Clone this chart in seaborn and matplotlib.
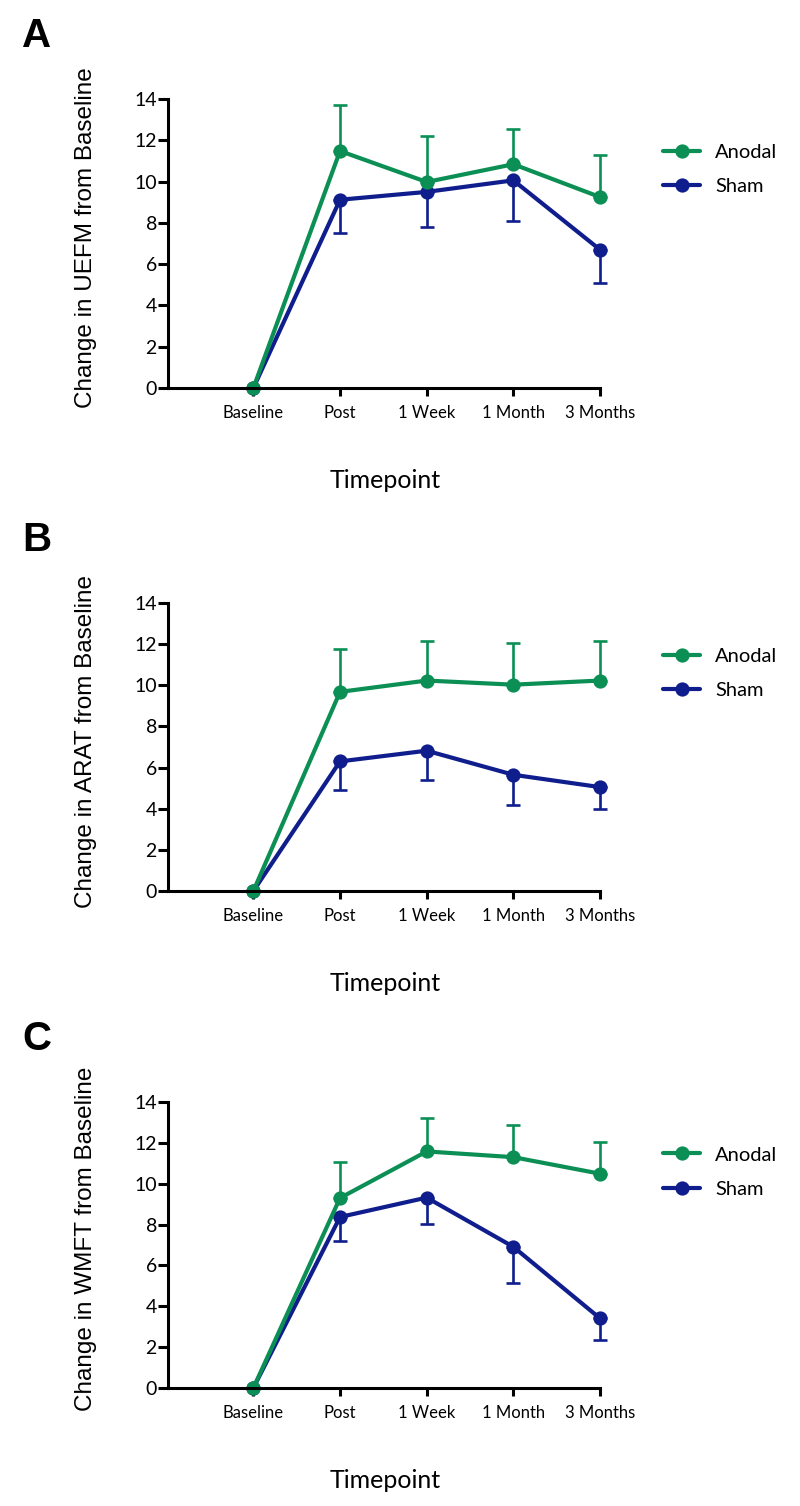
import matplotlib
matplotlib.use("Agg")
import matplotlib.pyplot as plt
import numpy as np
import pandas as pd
import seaborn as sns

sns.set_theme(style="ticks")
plt.rcParams['font.family'] = ['Lato', 'DejaVu Sans']
plt.rcParams['text.color'] = 'black'
plt.rcParams['xtick.color'] = 'black'
plt.rcParams['ytick.color'] = 'black'
plt.rcParams['axes.labelcolor'] = 'black'

timepoints = ['Baseline', 'Post', '1 Week', '1 Month', '3 Months']
groups = ['Anodal', 'Sham']
colors = {'Anodal': '#0b8f55', 'Sham': '#0f1e8c'}

# mean change from baseline, one list per panel and group
uefm_anodal = [0, 11.48, 9.98, 10.84, 9.25]
uefm_sham = [0, 9.12, 9.50, 10.06, 6.70]
arat_anodal = [0, 9.68, 10.23, 10.03, 10.23]
arat_sham = [0, 6.30, 6.82, 5.65, 5.05]
wmft_anodal = [0, 9.30, 11.58, 11.30, 10.49]
wmft_sham = [0, 8.37, 9.32, 6.91, 3.41]

# error bar lengths (anodal drawn up, sham drawn down)
uefm_anodal_err = [0, 2.25, 2.23, 1.72, 2.06]
uefm_sham_err = [0, 1.62, 1.68, 1.98, 1.60]
arat_anodal_err = [0, 2.06, 1.91, 2.03, 1.91]
arat_sham_err = [0, 1.38, 1.43, 1.49, 1.06]
wmft_anodal_err = [0, 1.77, 1.64, 1.58, 1.53]
wmft_sham_err = [0, 1.17, 1.27, 1.79, 1.08]

panels = [
    ('A', 'UEFM', uefm_anodal, uefm_sham, uefm_anodal_err, uefm_sham_err),
    ('B', 'ARAT', arat_anodal, arat_sham, arat_anodal_err, arat_sham_err),
    ('C', 'WMFT', wmft_anodal, wmft_sham, wmft_anodal_err, wmft_sham_err),
]

W, H = 800, 1506
fig = plt.figure(figsize=(W / 100, H / 100), dpi=100)

# (top, bottom) of each axes in pixels
ax_px = [(99, 388), (603, 891), (1102, 1388)]
left_px, right_px = 168, 600

for (letter, measure, an, sh, an_err, sh_err), (top, bot) in zip(panels, ax_px):
    ax = fig.add_axes([left_px / W, 1 - bot / H, (right_px - left_px) / W, (bot - top) / H])
    df = pd.DataFrame({
        'timepoint': timepoints * 2,
        'change': an + sh,
        'group': ['Anodal'] * len(timepoints) + ['Sham'] * len(timepoints),
    })
    sns.pointplot(data=df, x='timepoint', y='change', hue='group', order=timepoints,
                  hue_order=['Sham', 'Anodal'], palette=colors, markers='o',
                  errorbar=None, markersize=8, linewidth=3, ax=ax)
    pos = np.arange(len(timepoints))
    ax.errorbar(pos[1:], sh[1:], yerr=[sh_err[1:], np.zeros(4)], fmt='none',
                ecolor=colors['Sham'], elinewidth=1.9, capsize=5, capthick=1.9, zorder=1)
    ax.errorbar(pos[1:], an[1:], yerr=[np.zeros(4), an_err[1:]], fmt='none',
                ecolor=colors['Anodal'], elinewidth=1.9, capsize=5, capthick=1.9, zorder=1)
    for ln in ax.lines:
        ln.set_clip_on(False)
    for c in ax.collections:
        c.set_clip_on(False)

    ax.set_xlim(-0.985, 4)
    ax.set_ylim(0, 14)
    ax.set_yticks(range(0, 15, 2))
    ax.set_xticks(pos)
    ax.set_xticklabels(timepoints, fontsize=12)
    ax.tick_params(axis='y', labelsize=14, length=7, width=2.2, pad=1, color='black')
    ax.tick_params(axis='x', length=6, width=2.2, pad=6, color='black')
    sns.despine(ax=ax)
    for s in ['left', 'bottom']:
        ax.spines[s].set_linewidth(2.2)
        ax.spines[s].set_color('black')
    ax.set_xlabel('')
    ax.set_ylabel('')

    ax.text(-0.176, 0.52, f'Change in {measure} from Baseline', transform=ax.transAxes,
            rotation=90, rotation_mode='anchor', ha='center', va='baseline',
            fontsize=17.5, family=['Liberation Sans', 'DejaVu Sans'])
    ax.text(0.502, -100 / (bot - top), 'Timepoint', transform=ax.transAxes,
            ha='center', va='baseline', fontsize=18)

    handles, labels = ax.get_legend_handles_labels()
    order = [labels.index(g) for g in groups]
    ax.legend([handles[i] for i in order], [labels[i] for i in order],
              loc='center left', bbox_to_anchor=(1.146, 0.755), frameon=False,
              fontsize=14.5, handlelength=1.85, handletextpad=0.75, labelspacing=0.85,
              borderpad=0, borderaxespad=0)

    fig.text(22 / W, 1 - (top - 52) / H, letter, fontsize=29, fontweight='bold',
             family=['Liberation Sans', 'DejaVu Sans'], ha='left', va='baseline')

fig.savefig('out.png', dpi=100)
